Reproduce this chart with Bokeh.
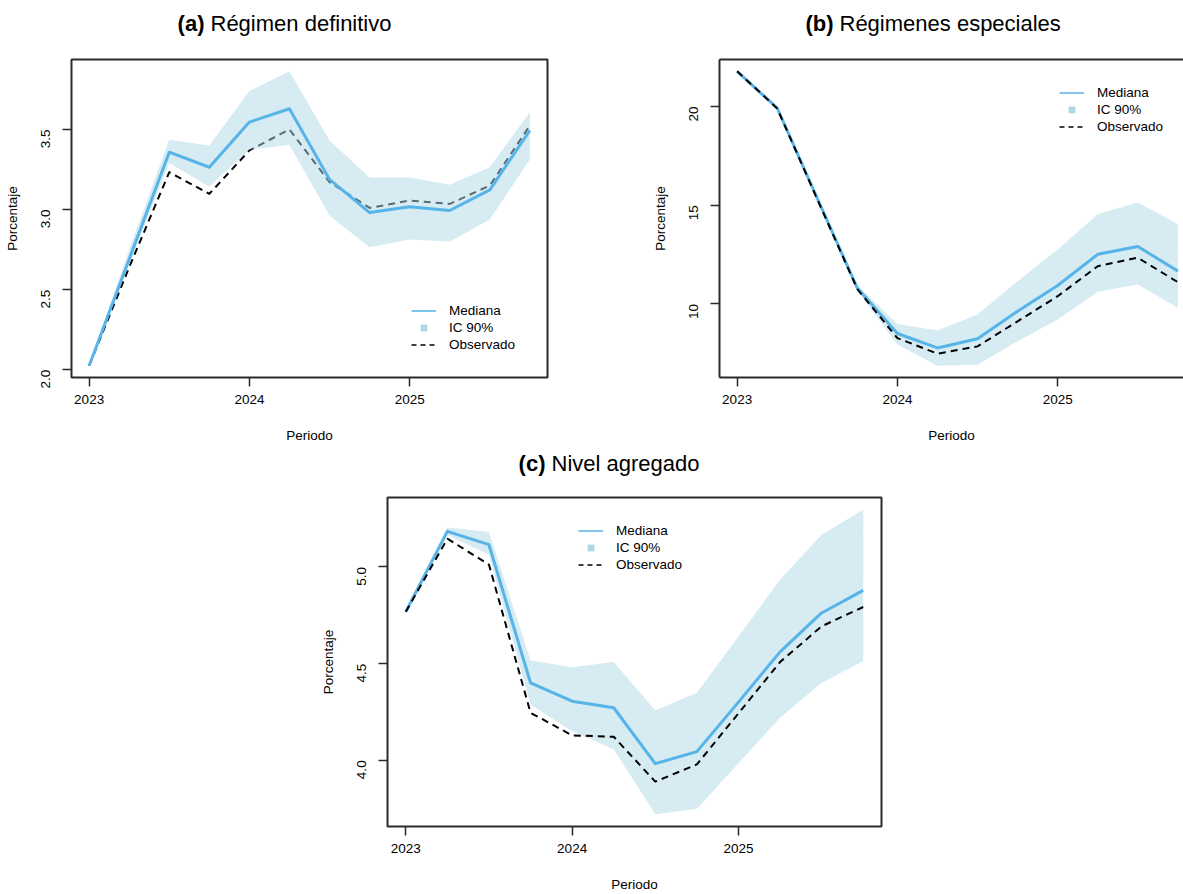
import math

from bokeh.core.properties import value
from bokeh.embed import file_html
from bokeh.layouts import column, row
from bokeh.models import (FixedTicker, Legend, LegendItem, LinearAxis,
                          NumeralTickFormatter, Range1d)
from bokeh.plotting import figure
from bokeh.resources import INLINE

# Quarterly periods (fractional years)
periodo = [2023.00, 2023.25, 2023.50, 2023.75, 2024.00, 2024.25,
           2024.50, 2024.75, 2025.00, 2025.25, 2025.50, 2025.75]
year_ticks = [2023, 2024, 2025]

# (a) Régimen definitivo
mediana_def = [2.025, 2.69, 3.358, 3.264, 3.546, 3.629, 3.188, 2.981, 3.017, 2.994, 3.123, 3.494]
inferior_def = [2.025, 2.66, 3.29, 3.144, 3.373, 3.404, 2.963, 2.765, 2.813, 2.80, 2.938, 3.313]
superior_def = [2.025, 2.75, 3.435, 3.40, 3.74, 3.863, 3.431, 3.20, 3.20, 3.154, 3.264, 3.608]
observado_def = [2.025, 2.64, 3.233, 3.098, 3.369, 3.50, 3.171, 3.010, 3.056, 3.035, 3.15, 3.525]
ticks_def = [2.0, 2.5, 3.0, 3.5]

# (b) Régimenes especiales
mediana_esp = [21.78, 19.92, 15.35, 10.80, 8.50, 7.77, 8.24, 9.63, 10.93, 12.51, 12.91, 11.66]
inferior_esp = [21.78, 19.88, 15.30, 10.65, 7.94, 6.87, 6.92, 8.11, 9.21, 10.61, 10.98, 9.80]
superior_esp = [21.78, 19.96, 15.40, 10.95, 8.98, 8.65, 9.46, 11.15, 12.76, 14.54, 15.13, 14.03]
observado_esp = [21.78, 19.90, 15.30, 10.75, 8.27, 7.48, 7.85, 9.12, 10.39, 11.91, 12.34, 11.10]
ticks_esp = [10, 15, 20]

# (c) Nivel agregado
mediana_agr = [4.768, 5.184, 5.115, 4.401, 4.306, 4.272, 3.983, 4.045, 4.301, 4.561, 4.762, 4.879]
inferior_agr = [4.768, 5.165, 5.063, 4.289, 4.151, 4.057, 3.721, 3.750, 3.985, 4.220, 4.401, 4.513]
superior_agr = [4.768, 5.204, 5.180, 4.516, 4.482, 4.508, 4.258, 4.349, 4.640, 4.934, 5.167, 5.296]
observado_agr = [4.768, 5.146, 5.012, 4.246, 4.129, 4.122, 3.890, 3.979, 4.243, 4.508, 4.693, 4.793]
ticks_agr = [4.0, 4.5, 5.0]

# Panel headings: bold tag followed by plain text
tags_top = ["(a)", "(b)"]
names_top = ["Régimen definitivo", "Régimenes especiales"]
tags_bottom = ["(c)"]
names_bottom = ["Nivel agregado"]
legend_labels = ["Mediana", "IC 90%", "Observado"]

FONT = "Liberation Sans"
FRAME = "#2b2b2b"
BLUE = "#56B4E9"
BAND = "#ADD8E6"
PAGE_W = 1183
NAN = float("nan")


def padded(lo, hi):
    pad = 0.04 * (hi - lo)
    return lo - pad, hi + pad


def style_axis(ax, ticks, fmt, label, draw_line=False):
    ax.ticker = FixedTicker(ticks=ticks)
    ax.formatter = NumeralTickFormatter(format=fmt)
    ax.axis_label = label
    ax.axis_label_text_font = FONT
    ax.axis_label_text_font_size = "13.5px"
    ax.axis_label_text_font_style = "normal"
    ax.axis_label_text_color = "black"
    ax.major_label_text_font = FONT
    ax.major_label_text_font_size = "13.5px"
    ax.major_label_text_color = "black"
    ax.major_tick_in = 0
    ax.major_tick_out = 9
    ax.major_tick_line_color = FRAME
    ax.major_tick_line_width = 1.5
    ax.minor_tick_line_color = None
    if draw_line:
        ax.axis_line_color = FRAME
        ax.axis_line_width = 2
    else:
        ax.axis_line_color = None


def make_panel(width, height, left, right, top, bottom, xr, yr, yticks, yfmt, boxed=True):
    p = figure(width=width, height=height, x_range=Range1d(*xr), y_range=Range1d(*yr),
               output_backend="svg", toolbar_location=None,
               min_border_left=left, min_border_right=right,
               min_border_top=top, min_border_bottom=bottom)
    p.grid.visible = False
    p.background_fill_color = "white"
    p.border_fill_color = "white"
    if boxed:
        p.outline_line_color = FRAME
        p.outline_line_width = 2
    else:
        p.outline_line_color = None
    style_axis(p.xaxis[0], year_ticks, "0", "Periodo", draw_line=not boxed)
    style_axis(p.yaxis[0], yticks, yfmt, "Porcentaje", draw_line=not boxed)
    p.xaxis.major_label_standoff = 8
    p.xaxis.axis_label_standoff = 21
    p.yaxis.major_label_orientation = math.pi / 2
    p.yaxis.major_label_standoff = 17
    p.yaxis.axis_label_standoff = 14
    return p


def draw_series(p, lo, hi, med, obs, band_over_obs=False):
    def band():
        p.varea(x=periodo, y1=lo, y2=hi, fill_color=BAND, fill_alpha=0.5)

    def observed():
        p.line(periodo, obs, line_color="black", line_width=2, line_dash="7 5",
               line_join="round")

    def median():
        p.line(periodo, med, line_color=BLUE, line_width=3, line_join="round")

    if band_over_obs:
        observed()
        band()
        median()
    else:
        band()
        median()
        observed()


def add_legend(p, loc):
    # key swatches only (a single NaN point draws nothing in the plot area)
    r_med = p.line([NAN], [NAN], line_color=BLUE, line_width=1.5)
    r_ic = p.scatter([NAN], [NAN], marker="square", fill_color=BAND, line_color=None, size=8)
    r_obs = p.line([NAN], [NAN], line_color="black", line_width=1.5, line_dash="5 4")
    leg = Legend(items=[LegendItem(label=lab, renderers=[r])
                        for lab, r in zip(legend_labels, [r_med, r_ic, r_obs])],
                 location=loc, padding=0, margin=0, spacing=0,
                 glyph_width=25, glyph_height=17, label_height=17, label_standoff=13,
                 label_text_font=FONT, label_text_font_size="13.5px",
                 label_text_color="black",
                 border_line_color=None, background_fill_alpha=0)
    p.add_layout(leg)


def heading_strip(height, tags, names, splits, mid_y):
    t = figure(width=PAGE_W, height=height, x_range=Range1d(0, PAGE_W),
               y_range=Range1d(height, 0), x_axis_type=None, y_axis_type=None,
               output_backend="svg", toolbar_location=None, min_border=0)
    t.grid.visible = False
    t.outline_line_color = None
    t.background_fill_color = "white"
    t.border_fill_color = "white"
    ys = [mid_y] * len(tags)
    t.text(x=splits, y=ys, text=tags, text_font=value(FONT), text_font_size="22px",
           text_font_style="bold", text_align="right", text_baseline="middle",
           text_color="black")
    t.text(x=[s + 6 for s in splits], y=ys, text=names, text_font=value(FONT),
           text_font_size="22px", text_align="left", text_baseline="middle",
           text_color="black")
    return t


x_lim = padded(periodo[0], periodo[-1])
px_per_year = 476 / (x_lim[1] - x_lim[0])

head_top = heading_strip(57, tags_top, names_top, [204, 833], 23)

# (a)
ylim_a = padded(min(inferior_def + observado_def + mediana_def),
                max(superior_def + observado_def + mediana_def))
pa = make_panel(600, 393, 71, 53, 2, 73, x_lim, ylim_a, ticks_def, "0.0")
draw_series(pa, inferior_def, superior_def, mediana_def, observado_def, band_over_obs=True)
add_legend(pa, (340, 24))

# (b): frame runs past the right edge of the page
ylim_b = padded(min(inferior_esp + observado_esp + mediana_esp),
                max(superior_esp + observado_esp + mediana_esp))
xlim_b = (x_lim[0], x_lim[0] + 464 / px_per_year)
pb = make_panel(583, 393, 119, 0, 2, 73, xlim_b, ylim_b, ticks_esp, "0", boxed=False)
top_rule = LinearAxis(ticker=FixedTicker(ticks=[]), axis_line_color=FRAME, axis_line_width=2,
                      major_tick_line_color=None, minor_tick_line_color=None,
                      major_label_text_font_size="0px")
pb.add_layout(top_rule, "above")
draw_series(pb, inferior_esp, superior_esp, mediana_esp, observado_esp)
add_legend(pb, (340, 242))

head_bottom = heading_strip(45, tags_bottom, names_bottom, [545], 13)

# (c)
ylim_c = padded(min(inferior_agr + observado_agr + mediana_agr),
                max(superior_agr + observado_agr + mediana_agr))
pc = make_panel(PAGE_W, 399, 387, 302, 2, 66, x_lim, ylim_c, ticks_agr, "0.0")
draw_series(pc, inferior_agr, superior_agr, mediana_agr, observado_agr)
add_legend(pc, (191, 253))

# each block in its own row so plot frames are not aligned across the column
layout = column(row(head_top), row(pa, pb), row(head_bottom), row(pc))
open("out.html", "w").write(file_html(layout, INLINE))
